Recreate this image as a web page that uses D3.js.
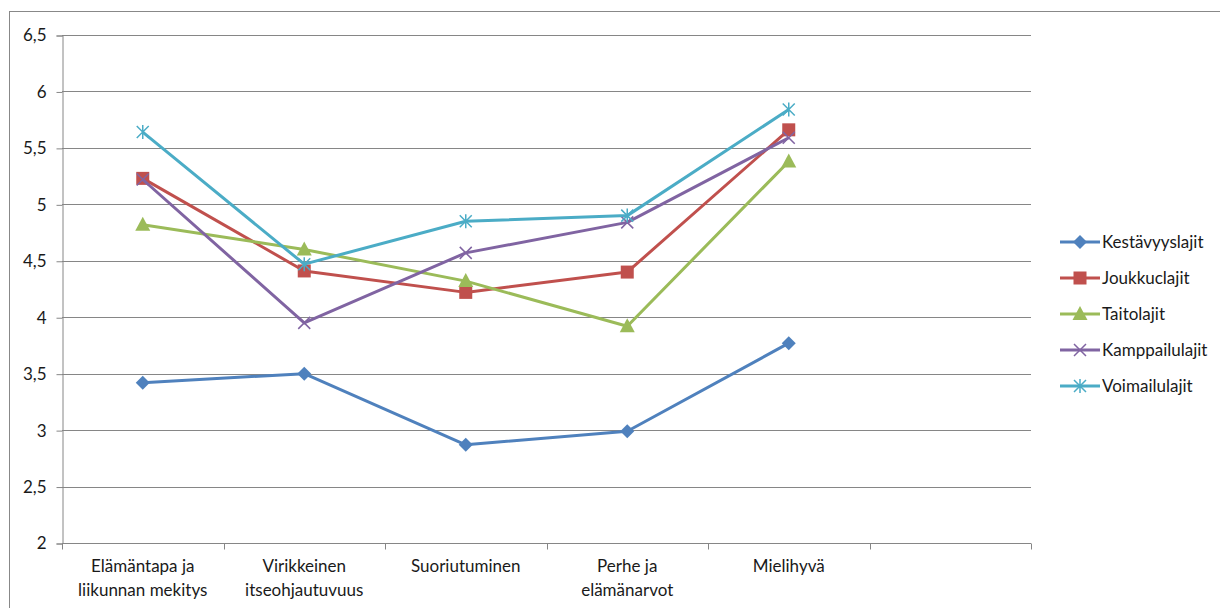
<!DOCTYPE html>
<html>
<head>
<meta charset="utf-8">
<script src="https://cdn.jsdelivr.net/npm/d3@7/dist/d3.min.js"></script>
<style>
  html, body { margin: 0; padding: 0; background: #fff; }
  svg text { font-family: Lato, "Open Sans", "Liberation Sans", sans-serif; fill: #1a1a1a; }
</style>
</head>
<body>
<svg id="chart" width="1220" height="608"></svg>
<script>
// Category labels (last slot is left empty on the axis)
const categories = [
  ["Elämäntapa ja", "liikunnan mekitys"],
  ["Virikkeinen", "itseohjautuvuus"],
  ["Suoriutuminen"],
  ["Perhe ja", "elämänarvot"],
  ["Mielihyvä"],
  [""]
];
const seriesNames = ["Kestävyyslajit", "Joukkuclajit", "Taitolajit", "Kamppailulajit", "Voimailulajit"];
const kestavyys  = [3.42, 3.50, 2.87, 2.99, 3.77];
const joukkue    = [5.23, 4.41, 4.22, 4.40, 5.66];
const taito      = [4.82, 4.60, 4.32, 3.92, 5.38];
const kamppailu  = [5.22, 3.95, 4.57, 4.84, 5.59];
const voimailu   = [5.64, 4.47, 4.85, 4.90, 5.84];
const yTicks = [2, 2.5, 3, 3.5, 4, 4.5, 5, 5.5, 6, 6.5];

const colors = ["#4F81BD", "#C0504D", "#9BBB59", "#8064A2", "#4BACC6"];
const markers = ["diamond", "square", "triangle", "x", "star"];
const seriesData = [kestavyys, joukkue, taito, kamppailu, voimailu];

const svg = d3.select("#chart");
const plotLeft = 62, plotRight = 1031, plotTop = 35, plotBottom = 543;

// chart frame
svg.append("rect").attr("x", 9.5).attr("y", 11.5).attr("width", 1240).attr("height", 620)
  .attr("fill", "none").attr("stroke", "#888").attr("stroke-width", 1);

const x = d3.scaleBand().domain(d3.range(categories.length)).range([plotLeft, plotRight]).padding(0);
const y = d3.scaleLinear().domain([2, 6.5]).range([plotBottom, plotTop]);

// gridlines
svg.append("g").selectAll("line").data(yTicks.filter(t => t > 2)).join("line")
  .attr("x1", plotLeft).attr("x2", plotRight)
  .attr("y1", d => Math.round(y(d)) + 0.5).attr("y2", d => Math.round(y(d)) + 0.5)
  .attr("stroke", "#868686").attr("stroke-width", 1);

// y axis
const yAxis = d3.axisLeft(y).tickValues(yTicks).tickSize(6).tickPadding(10)
  .tickFormat(d => d3.format(".1~f")(d).replace(".", ","));
const gy = svg.append("g").attr("transform", `translate(${plotLeft + 0.5},0.5)`).call(yAxis);
gy.select(".domain").attr("stroke", "#868686");
gy.selectAll(".tick line").attr("stroke", "#868686");
gy.selectAll(".tick text").attr("font-size", 17).attr("fill", "#1a1a1a")
  .style("font-family", "Lato, 'Open Sans', sans-serif");

// x axis
const gx = svg.append("g").attr("transform", `translate(0,${plotBottom + 0.5})`);
gx.append("line").attr("x1", plotLeft).attr("x2", plotRight).attr("stroke", "#868686");
const bounds = d3.range(categories.length + 1).map(i => plotLeft + i * x.bandwidth());
gx.selectAll("line.tk").data(bounds).join("line").attr("class", "tk")
  .attr("x1", d => Math.round(d) + 0.5).attr("x2", d => Math.round(d) + 0.5)
  .attr("y1", 0).attr("y2", 6).attr("stroke", "#868686");
const lbl = gx.selectAll("text").data(categories).join("text")
  .attr("x", (d, i) => x(i) + x.bandwidth() / 2)
  .attr("text-anchor", "middle").attr("font-size", 17);
lbl.selectAll("tspan").data(d => d).join("tspan")
  .attr("x", function () { return d3.select(this.parentNode).attr("x"); })
  .attr("y", (d, i) => 28 + i * 24).text(d => d);

// marker drawing
function drawMarker(g, type, color) {
  if (type === "diamond") {
    g.append("path").attr("d", "M0,-7L7,0L0,7L-7,0Z").attr("fill", color);
  } else if (type === "square") {
    g.append("rect").attr("x", -6.5).attr("y", -6.5).attr("width", 13).attr("height", 13).attr("fill", color);
  } else if (type === "triangle") {
    g.append("path").attr("d", "M0,-8L7.5,6L-7.5,6Z").attr("fill", color);
  } else if (type === "x") {
    g.append("path").attr("d", "M-6,-6L6,6M-6,6L6,-6").attr("stroke", color).attr("stroke-width", 1.5);
  } else if (type === "star") {
    g.append("path").attr("d", "M-6,-6L6,6M-6,6L6,-6M0,-7L0,7").attr("stroke", color).attr("stroke-width", 1.5);
  }
}

const line = d3.line().x((d, i) => x(i) + x.bandwidth() / 2).y(d => y(d));
seriesData.forEach((vals, s) => {
  const g = svg.append("g");
  g.append("path").datum(vals).attr("d", line).attr("fill", "none")
    .attr("stroke", colors[s]).attr("stroke-width", 3).attr("stroke-linejoin", "round");
  vals.forEach((v, i) => {
    const m = g.append("g").attr("transform", `translate(${x(i) + x.bandwidth() / 2},${y(v)})`);
    drawMarker(m, markers[s], colors[s]);
  });
});

// legend
const legend = svg.append("g").attr("transform", "translate(1060,242)");
seriesNames.forEach((name, s) => {
  const g = legend.append("g").attr("transform", `translate(0,${s * 36})`);
  g.append("line").attr("x1", 0).attr("x2", 40).attr("stroke", colors[s]).attr("stroke-width", 3);
  const m = g.append("g").attr("transform", "translate(20,0)");
  drawMarker(m, markers[s], colors[s]);
  g.append("text").attr("x", 42).attr("y", 6).attr("font-size", 17).text(name);
});
</script>
</body>
</html>
